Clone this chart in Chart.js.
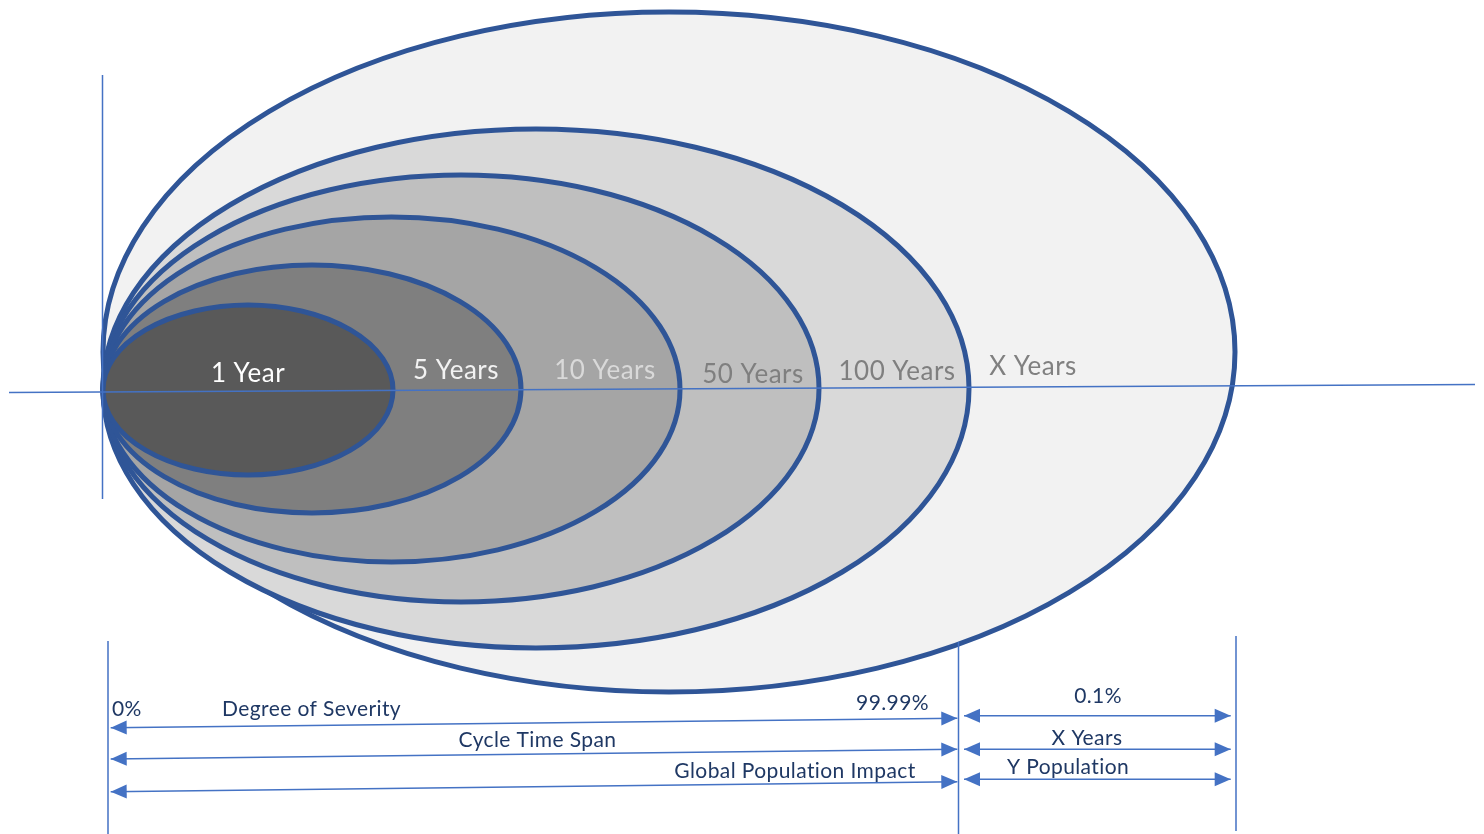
<!DOCTYPE html>
<html>
<head>
<meta charset="utf-8">
<script src="https://cdn.jsdelivr.net/npm/chart.js@4/dist/chart.umd.min.js"></script>
<style>
    html, body { margin: 0; padding: 0; background: #ffffff; }
    #wrap { width: 1484px; height: 834px; position: relative; }
</style>
</head>
<body>
<div id="wrap"><canvas id="severityChart"></canvas></div>
<script>
// rings: x = reach from the common origin, y = offset from the centre line
const periods = ['1 Year', '5 Years', '10 Years', '50 Years', '100 Years', 'X Years'];
const ringReach = [290, 418, 577, 716, 866, 1132];
const ringHeight = [170, 248, 345, 427, 519, 680];
const ringMid = [2, 3, 2.5, 3.5, 3.5, 40];
const ringLabelX = [145, 353, 502, 650, 794, 930];
const ringLabelY = [10, 13, 13, 9, 12, 17];

// guide lines
const centreLine = [{ x: -94, y: -0.5 }, { x: 1372, y: 7.5 }];
const originLine = [{ x: -0.5, y: 317 }, { x: -0.5, y: -107 }];
const markerX = [5, 855.5, 1133];
const markerTop = [-249, -250, -244];
const markerBottom = [-442, -442, -439];

// dimension arrows
const spanNames = ['Degree of Severity', 'Cycle Time Span', 'Global Population Impact'];
const spanFrom = 7.7;
const spanTo = 854.3;
const spanFromY = [-335.7, -367, -399.7];
const spanToY = [-326.3, -357.3, -389.7];
const tailNames = ['0.1%', 'X Years', 'Y Population'];
const tailFrom = 861;
const tailTo = 1127.7;
const tailY = [-323.7, -357.3, -387.3];

// captions under the rings
const captionText = ['0%', 'Degree of Severity', '99.99%', '0.1%', 'Cycle Time Span', 'X Years', 'Global Population Impact', 'Y Population'];
const captionX = [9, 119, 826, 995, 434.5, 984, 692, 965];
const captionY = [-324, -324, -318, -311, -355, -353, -386, -382];
const captionAlign = ['left', 'left', 'right', 'center', 'center', 'center', 'center', 'center'];

const ringFill = ['#595959', '#7F7F7F', '#A5A5A5', '#BFBFBF', '#D9D9D9', '#F2F2F2'];
const ringText = ['#FFFFFF', '#F2F2F2', '#D9D9D9', '#7F7F7F', '#7F7F7F', '#808080'];
const guideBlue = '#4472C4';

const ringsPlugin = {
    id: 'rings',
    beforeDatasetsDraw(chart) {
        const { ctx, scales: { x, y } } = chart;
        ctx.save();
        for (let i = periods.length - 1; i >= 0; i--) {
            const left = x.getPixelForValue(0);
            const right = x.getPixelForValue(ringReach[i]);
            const top = y.getPixelForValue(ringMid[i] + ringHeight[i] / 2);
            const bottom = y.getPixelForValue(ringMid[i] - ringHeight[i] / 2);
            ctx.beginPath();
            ctx.ellipse((left + right) / 2, (top + bottom) / 2, (right - left) / 2, (bottom - top) / 2, 0, 0, Math.PI * 2);
            ctx.fillStyle = ringFill[i];
            ctx.fill();
            ctx.lineWidth = 5;
            ctx.strokeStyle = '#2F5597';
            ctx.stroke();
        }
        ctx.restore();
    },
};

const arrowPlugin = {
    id: 'arrowHeads',
    afterDatasetsDraw(chart) {
        const { ctx } = chart;
        ctx.save();
        ctx.fillStyle = guideBlue;
        chart.data.datasets.forEach((ds, i) => {
            if (!ds.arrows) return;
            const pts = chart.getDatasetMeta(i).data;
            const ends = [[pts[0], pts[1]], [pts[pts.length - 1], pts[pts.length - 2]]];
            ends.forEach(([tip, from]) => {
                const ang = Math.atan2(tip.y - from.y, tip.x - from.x);
                const len = 16, half = 7;
                const bx = tip.x - Math.cos(ang) * len;
                const by = tip.y - Math.sin(ang) * len;
                ctx.beginPath();
                ctx.moveTo(tip.x, tip.y);
                ctx.lineTo(bx + Math.sin(ang) * half, by - Math.cos(ang) * half);
                ctx.lineTo(bx - Math.sin(ang) * half, by + Math.cos(ang) * half);
                ctx.closePath();
                ctx.fill();
            });
        });
        ctx.restore();
    },
};

const labelPlugin = {
    id: 'labels',
    afterDatasetsDraw(chart) {
        const { ctx, scales: { x, y } } = chart;
        ctx.save();
        ctx.textBaseline = 'alphabetic';
        ctx.font = "26px 'Lato', sans-serif";
        ctx.letterSpacing = '0.5px';
        ctx.textAlign = 'center';
        periods.forEach((p, i) => {
            ctx.fillStyle = ringText[i];
            ctx.fillText(p, x.getPixelForValue(ringLabelX[i]), y.getPixelForValue(ringLabelY[i]));
        });
        ctx.font = "21px 'Lato', sans-serif";
        ctx.letterSpacing = '0.4px';
        ctx.fillStyle = '#1F3864';
        captionText.forEach((t, i) => {
            ctx.textAlign = captionAlign[i];
            ctx.fillText(t, x.getPixelForValue(captionX[i]), y.getPixelForValue(captionY[i]));
        });
        ctx.restore();
    },
};

function guide(points, extra) {
    return Object.assign({
        data: points,
        showLine: true,
        borderColor: guideBlue,
        borderWidth: 1.5,
        pointRadius: 0,
        fill: false,
    }, extra || {});
}

const datasets = [guide(centreLine), guide(originLine)];
markerX.forEach((mx, i) => {
    datasets.push(guide([{ x: mx, y: markerTop[i] }, { x: mx, y: markerBottom[i] }]));
});
spanNames.forEach((name, i) => {
    datasets.push(guide([{ x: spanFrom, y: spanFromY[i] }, { x: spanTo, y: spanToY[i] }], { label: name, arrows: true }));
});
tailNames.forEach((name, i) => {
    datasets.push(guide([{ x: tailFrom, y: tailY[i] }, { x: tailTo, y: tailY[i] }], { label: name, arrows: true }));
});

new Chart(document.getElementById('severityChart').getContext('2d'), {
    type: 'scatter',
    data: { datasets },
    options: {
        responsive: true,
        maintainAspectRatio: false,
        animation: false,
        layout: { padding: 0 },
        plugins: {
            legend: { display: false },
            tooltip: { enabled: false },
        },
        scales: {
            x: { type: 'linear', display: false, min: -103, max: 1381 },
            y: { type: 'linear', display: false, min: -442, max: 392 },
        },
    },
    plugins: [ringsPlugin, arrowPlugin, labelPlugin],
});
</script>
</body>
</html>
